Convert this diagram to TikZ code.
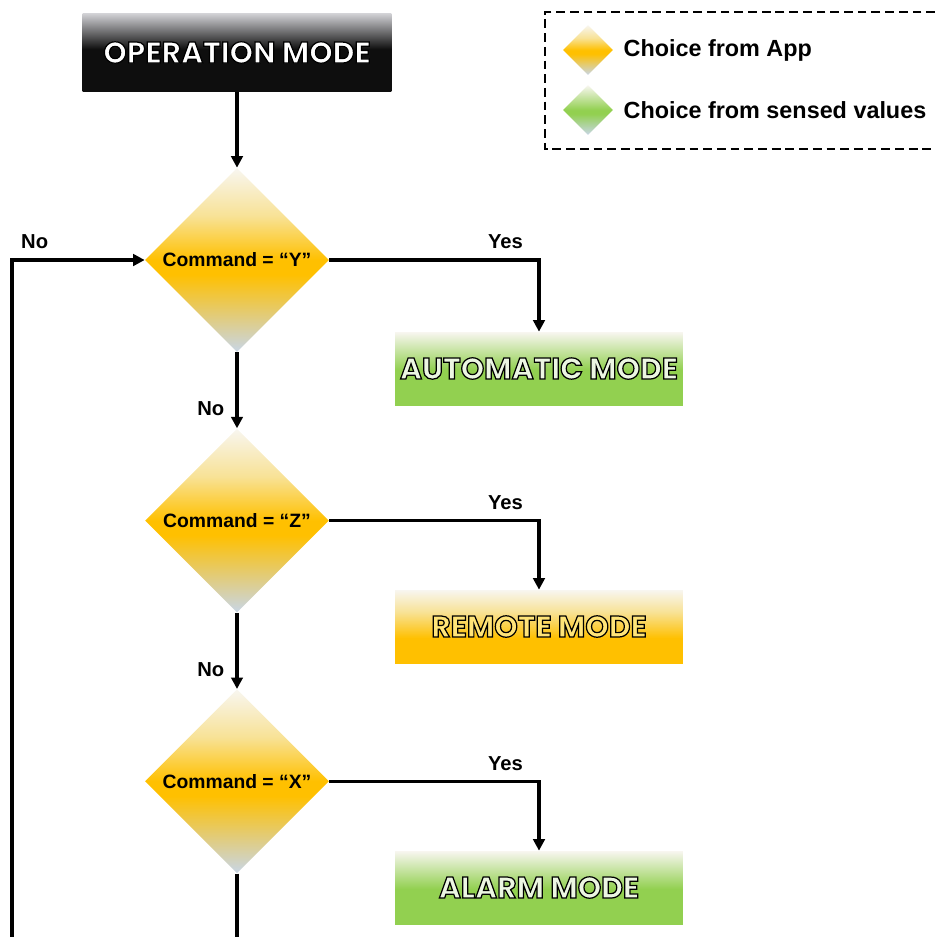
\documentclass[tikz,border=0pt]{standalone}
\usepackage{fontspec}
\setmainfont{Liberation Sans}
\newfontfamily\modefont{Poppins}
\usepackage{tikz}
\usetikzlibrary{positioning, shapes.geometric, arrows.meta}

\definecolor{amber}{RGB}{255,192,0}
\definecolor{leaf}{RGB}{146,208,80}
\definecolor{slate}{RGB}{200,214,230}
\definecolor{cream}{RGB}{248,246,240}
\definecolor{butter}{RGB}{248,226,150}
\definecolor{pitch}{RGB}{14,14,14}
\definecolor{ash}{RGB}{212,212,216}
\definecolor{mint}{RGB}{236,246,226}
\definecolor{lemon}{RGB}{255,228,120}

\pgfdeclareverticalshading{appshade}{100bp}{color(0bp)=(slate); color(25bp)=(slate); color(46bp)=(amber); color(50bp)=(amber); color(62bp)=(butter); color(75bp)=(cream); color(100bp)=(cream)}
\pgfdeclareverticalshading{sensedshade}{100bp}{color(0bp)=(slate); color(25bp)=(slate); color(46bp)=(leaf); color(50bp)=(leaf); color(75bp)=(cream); color(100bp)=(cream)}
\pgfdeclareverticalshading{greenshade}{100bp}{color(0bp)=(leaf); color(49bp)=(leaf); color(75bp)=(cream); color(100bp)=(cream)}
\pgfdeclareverticalshading{ambershade}{100bp}{color(0bp)=(amber); color(42bp)=(amber); color(60bp)=(butter); color(75bp)=(cream); color(100bp)=(cream)}
\pgfdeclareverticalshading{blackshade}{100bp}{color(0bp)=(pitch); color(52bp)=(pitch); color(75bp)=(ash); color(100bp)=(ash)}

\tikzset{Decision/.style={%
    shape=diamond,%
    shade,%
    shading=appshade,%
    minimum width=3.68cm,%
    minimum height=3.68cm,%
    inner sep=0pt,%
    font=\bfseries\fontsize{11}{13}\selectfont,%
}}
\tikzset{ModeBox/.style={%
    shape=rectangle,%
    shade,%
    minimum width=5.76cm,%
    minimum height=1.46cm,%
    inner sep=0pt,%
}}
\tikzset{GreenMode/.style={%
    ModeBox,%
    shading=greenshade,%
}}
\tikzset{AmberMode/.style={%
    ModeBox,%
    shading=ambershade,%
}}
\tikzset{BlackMode/.style={%
    ModeBox,%
    shading=blackshade,%
    minimum width=6.18cm,%
    minimum height=1.58cm,%
}}
\tikzset{Key/.style={%
    shape=diamond,%
    shade,%
    minimum size=1cm,%
    inner sep=0pt,%
}}
\tikzset{LegendText/.style={%
    inner sep=0pt,%
    font=\bfseries\fontsize{13.3}{15}\selectfont,%
}}
\tikzset{LegendFrame/.style={%
    line width=1.4pt,%
    dash pattern=on 5pt off 2.8pt,%
}}
\tikzset{FlowEdge/.style={%
    -{Triangle[length=6.5pt,width=6.5pt]},%
    line width=1.8pt,%
}}
\tikzset{PlainEdge/.style={%
    -,%
    line width=1.8pt,%
}}
\NewDocumentCommand{\edgeLabel}{m}{%
    {\bfseries\fontsize{11.5}{13}\selectfont #1}%
}
\NewDocumentCommand{\modeLabel}{m m}{%
    {\modefont\bfseries\fontsize{17}{20}\selectfont\color{#1}%
    \special{pdf:literal direct 2 Tr 0.7 w 0 0 0 RG}#2\special{pdf:literal direct 0 Tr}}%
}

\begin{document}
\begin{tikzpicture}[x=0.02cm, y=-0.02cm]
    \useasboundingbox (0,0) rectangle (935,937);

    \node[BlackMode] (opMode) at (237,52.5) {\modeLabel{white}{OPERATION MODE}};
    \node[Decision] (cmdY) at (237,260) {Command = “Y”};
    \node[Decision, below=1.52cm of cmdY] (cmdZ) {Command = “Z”};
    \node[Decision, below=1.52cm of cmdZ] (cmdX) {Command = “X”};
    \node[GreenMode] (autoMode) at (539,368.5) {\modeLabel{mint}{AUTOMATIC MODE}};
    \node[AmberMode] (remoteMode) at (539,626.5) {\modeLabel{lemon}{REMOTE MODE}};
    \node[GreenMode] (alarmMode) at (539,887.5) {\modeLabel{mint}{ALARM MODE}};

    % legend
    \node[Key, shading=appshade] (appKey) at (588,50) {};
    \node[Key, shading=sensedshade] (sensedKey) at (588,110) {};
    \node[LegendText, right=0.2cm of appKey] (appText) {Choice from App};
    \node[LegendText, right=0.2cm of sensedKey] (sensedText) {Choice from sensed values};
    \draw[LegendFrame] (935,12) -| (545,149) -- (935,149);

    \coordinate (loopEnd) at (12,937);
    \coordinate (exitEnd) at (237,937);

    \path (opMode) edge[FlowEdge] (cmdY);
    \path (cmdY) edge[FlowEdge] node[pos=0.74, left=3pt]{\edgeLabel{No}} (cmdZ);
    \path (cmdZ) edge[FlowEdge] node[pos=0.74, left=3pt]{\edgeLabel{No}} (cmdX);
    \path (cmdX) edge[PlainEdge] (exitEnd);
    \draw[FlowEdge] (cmdY.east) -| node[pos=0.42, above=2pt]{\edgeLabel{Yes}} (autoMode.north);
    \draw[FlowEdge] (cmdZ.east) -| node[pos=0.42, above=2pt]{\edgeLabel{Yes}} (remoteMode.north);
    \draw[FlowEdge] (cmdX.east) -| node[pos=0.42, above=2pt]{\edgeLabel{Yes}} (alarmMode.north);
    \draw[FlowEdge] (loopEnd) |- node[pos=0.5, above right=2pt and 1pt]{\edgeLabel{No}} (cmdY.west);
\end{tikzpicture}
\end{document}
